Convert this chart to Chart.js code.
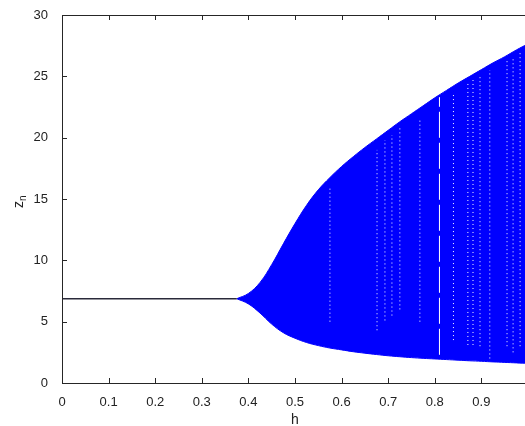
<!DOCTYPE html>
<html>
<head>
<meta charset="utf-8">
<script src="https://cdn.jsdelivr.net/npm/chart.js@4.4.1/dist/chart.umd.min.js"></script>
<style>
html, body { margin: 0; padding: 0; background: #fff; overflow: hidden; }
#wrap { width: 540px; height: 426px; }
</style>
</head>
<body>
<div id="wrap"><canvas id="bif" width="540" height="426"></canvas></div>
<script>
// tick labels
const xTicks = [0, 0.1, 0.2, 0.3, 0.4, 0.5, 0.6, 0.7, 0.8, 0.9, 1];
const yTicks = [0, 5, 10, 15, 20, 25, 30];

// stable fixed point before the bifurcation
const fixedH = [0, 0.375];
const fixedZ = [6.87, 6.87];

// envelope of the chaotic band
const bandH = [0.375, 0.4, 0.425, 0.45, 0.475, 0.5, 0.525, 0.55, 0.575, 0.6, 0.625, 0.65, 0.675,
               0.7, 0.725, 0.75, 0.775, 0.8, 0.825, 0.85, 0.875, 0.9, 0.925, 0.95, 0.975, 1.0];
const bandTop = [6.87, 7.3, 8.2, 9.65, 11.35, 13.0, 14.5, 15.75, 16.75, 17.65, 18.45, 19.2, 19.9,
                 20.6, 21.3, 21.95, 22.6, 23.25, 23.85, 24.45, 25.0, 25.55, 26.1, 26.6, 27.15, 27.65];
const bandBottom = [6.87, 6.45, 5.7, 4.8, 4.1, 3.65, 3.3, 3.05, 2.85, 2.7, 2.55, 2.43, 2.32,
                    2.22, 2.14, 2.07, 2.01, 1.96, 1.91, 1.86, 1.81, 1.77, 1.72, 1.68, 1.64, 1.6];

// periodic windows: white gaps inside the band
const windowH    = [0.81];
const windowLow  = [2.3];
const windowHigh = [23.3];

const stripeH    = [0.575, 0.676, 0.693, 0.708, 0.725, 0.768, 0.84, 0.871, 0.882, 0.897, 0.918, 0.955, 0.968, 0.983];
const stripeLow  = [5.0, 4.3, 5.1, 5.5, 6.0, 5.0, 3.5, 3.1, 3.1, 3.0, 2.0, 3.0, 2.5, 3.0];
const stripeHigh = [16.0, 19.0, 19.8, 20.2, 20.9, 21.5, 23.5, 24.4, 24.7, 25.0, 25.5, 26.3, 26.6, 27.0];

const pts = (xs, ys) => xs.map((v, i) => ({ x: v, y: ys[i] }));

const datasets = [
    {
        data: pts(fixedH, fixedZ),
        borderColor: '#2a2a3a',
        borderWidth: 1.5,
        pointRadius: 0,
        fill: false,
        order: 3
    },
    {
        data: pts(bandH, bandBottom),
        borderColor: '#0000ff',
        borderWidth: 1,
        pointRadius: 0,
        tension: 0.4,
        fill: false,
        order: 3
    },
    {
        data: pts(bandH, bandTop),
        borderColor: '#0000ff',
        backgroundColor: '#0000ff',
        borderWidth: 1,
        pointRadius: 0,
        tension: 0.4,
        fill: '-1',
        order: 3
    }
];

windowH.forEach((h, i) => {
    datasets.push({
        data: [{ x: h, y: windowLow[i] }, { x: h, y: windowHigh[i] }],
        borderColor: '#ffffff',
        borderWidth: 1,
        borderDash: [26, 5],
        pointRadius: 0,
        fill: false,
        order: 1
    });
});

stripeH.forEach((h, i) => {
    datasets.push({
        data: [{ x: h, y: stripeLow[i] }, { x: h, y: stripeHigh[i] }],
        borderColor: '#ffffff',
        borderWidth: 1,
        borderDash: [1, 3],
        pointRadius: 0,
        fill: false,
        order: 1
    });
});

// box, inward ticks and the z_n label
const frame = {
    id: 'frame',
    afterDraw(chart) {
        const { ctx, chartArea: a, scales } = chart;
        ctx.save();
        ctx.strokeStyle = '#262626';
        ctx.lineWidth = 1;
        ctx.beginPath();
        ctx.moveTo(a.right, a.top + 0.5);
        ctx.lineTo(a.left + 0.5, a.top + 0.5);
        ctx.lineTo(a.left + 0.5, a.bottom + 0.5);
        ctx.lineTo(a.right, a.bottom + 0.5);
        xTicks.forEach(v => {
            const px = Math.round(scales.x.getPixelForValue(v)) + 0.5;
            ctx.moveTo(px, a.bottom);
            ctx.lineTo(px, a.bottom - 5);
            ctx.moveTo(px, a.top);
            ctx.lineTo(px, a.top + 5);
        });
        yTicks.forEach(v => {
            const py = Math.round(scales.y.getPixelForValue(v)) + 0.5;
            ctx.moveTo(a.left, py);
            ctx.lineTo(a.left + 5, py);
        });
        ctx.stroke();

        ctx.fillStyle = '#222';
        ctx.translate(23, 208);
        ctx.rotate(-Math.PI / 2);
        ctx.textBaseline = 'alphabetic';
        ctx.textAlign = 'left';
        ctx.font = '14px "Liberation Sans", Arial, sans-serif';
        ctx.fillText('z', 0, 0);
        const w = ctx.measureText('z').width;
        ctx.font = '10px "Liberation Sans", Arial, sans-serif';
        ctx.fillText('n', w, 3);
        ctx.restore();
    }
};

const tickFont = { family: '"Liberation Sans", Arial, sans-serif', size: 13 };

new Chart(document.getElementById('bif'), {
    type: 'line',
    data: { datasets },
    plugins: [frame],
    options: {
        responsive: false,
        animation: false,
        devicePixelRatio: 1,
        layout: { padding: { top: 15, left: 0, right: 12, bottom: 0 } },
        plugins: {
            legend: { display: false },
            tooltip: { enabled: false }
        },
        scales: {
            x: {
                type: 'linear',
                min: 0,
                max: 1,
                afterBuildTicks: s => { s.ticks = xTicks.map(v => ({ value: v })); },
                afterFit: s => { s.height = 43; },
                grid: { display: false },
                border: { display: false },
                ticks: {
                    autoSkip: false,
                    maxRotation: 0,
                    padding: 4,
                    color: '#222',
                    font: tickFont,
                    callback: v => String(v)
                },
                title: {
                    display: true,
                    text: 'h',
                    color: '#222',
                    font: { family: '"Liberation Sans", Arial, sans-serif', size: 14, lineHeight: 0.9 },
                    padding: { top: 0, bottom: 0 }
                }
            },
            y: {
                type: 'linear',
                min: 0,
                max: 30,
                afterBuildTicks: s => { s.ticks = yTicks.map(v => ({ value: v })); },
                afterFit: s => { s.width = 62; },
                grid: { display: false },
                border: { display: false },
                ticks: {
                    padding: 6,
                    color: '#222',
                    font: tickFont,
                    callback: v => String(v)
                }
            }
        }
    }
});
</script>
</body>
</html>
